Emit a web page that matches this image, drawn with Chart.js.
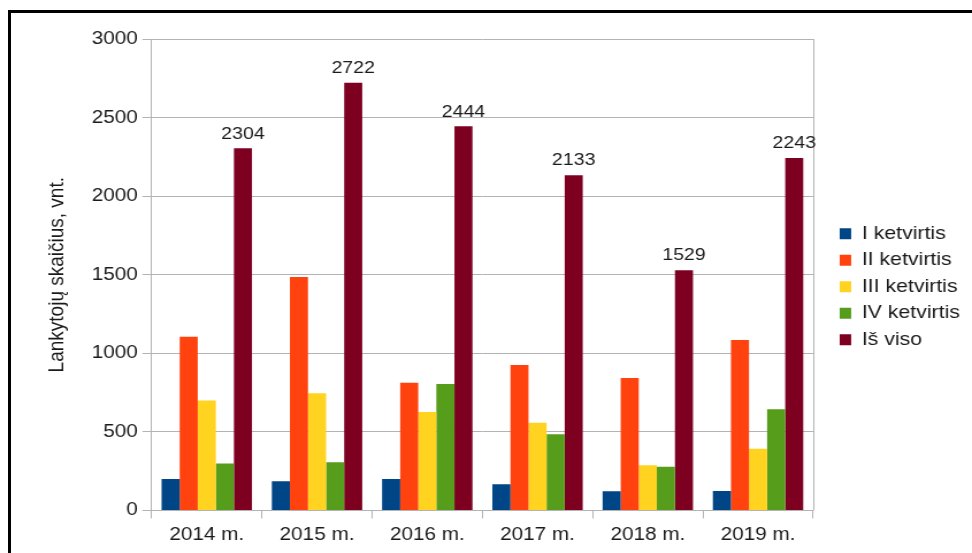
<!DOCTYPE html>
<html>
<head>
<meta charset="utf-8">
<script src="https://cdn.jsdelivr.net/npm/chart.js@4/dist/chart.umd.min.js"></script>
<style>
  html, body { margin: 0; padding: 0; background: #fff; overflow: hidden; }
  #frame { position: absolute; left: 8px; top: 10px; width: 2000px; height: 2000px;
           border-left: 3px solid #000; border-top: 3px solid #000; }
  #wrap { position: absolute; left: 0; top: 0; width: 850px; height: 553px;
          transform-origin: 0 0; transform: scaleX(1.1503); }
  canvas { display: block; }
</style>
</head>
<body>
<div id="frame"></div>
<div id="wrap"><canvas id="c" width="850" height="553"></canvas></div>
<script>
const categories = ['2014 m.', '2015 m.', '2016 m.', '2017 m.', '2018 m.', '2019 m.'];
const seriesNames = ['I ketvirtis', 'II ketvirtis', 'III ketvirtis', 'IV ketvirtis', 'Iš viso'];
const q1 = [200, 185, 200, 166, 122, 123];
const q2 = [1105, 1485, 812, 925, 843, 1085];
const q3 = [700, 745, 627, 558, 287, 392];
const q4 = [299, 307, 805, 484, 277, 643];
const total = [2304, 2722, 2444, 2133, 1529, 2243];
const yTicks = [0, 500, 1000, 1500, 2000, 2500, 3000];
const colors = ['#004586', '#ff420e', '#ffd320', '#579d1c', '#7e0021'];

const GRID = '#b3b3b3';
const TEXT = '#1a1a1a';
const FONT = '"Liberation Sans", Arial, sans-serif';

const labelPlugin = {
  id: 'totalLabels',
  afterDatasetsDraw(chart) {
    const ctx = chart.ctx;
    const meta = chart.getDatasetMeta(4);
    ctx.save();
    ctx.font = '17px ' + FONT;
    ctx.fillStyle = TEXT;
    ctx.textAlign = 'center';
    ctx.textBaseline = 'bottom';
    meta.data.forEach((bar, i) => {
      ctx.fillText(String(total[i]), bar.x, bar.y - 6);
    });
    ctx.restore();
  }
};

const edgePlugin = {
  id: 'rightEdge',
  beforeDatasetsDraw(chart) {
    const a = chart.chartArea, ctx = chart.ctx;
    ctx.save();
    ctx.strokeStyle = GRID;
    ctx.lineWidth = 1;
    ctx.beginPath();
    ctx.moveTo(Math.round(a.right) + 0.5, a.top);
    ctx.lineTo(Math.round(a.right) + 0.5, a.bottom);
    ctx.stroke();
    ctx.restore();
  }
};

const data = {
  labels: categories,
  datasets: [q1, q2, q3, q4, total].map((vals, i) => ({
    label: seriesNames[i],
    data: vals,
    backgroundColor: colors[i],
    borderWidth: 0,
    barPercentage: 1.0,
    categoryPercentage: 0.82
  }))
};

new Chart(document.getElementById('c'), {
  type: 'bar',
  data,
  plugins: [labelPlugin, edgePlugin],
  options: {
    responsive: false,
    animation: false,
    devicePixelRatio: 1,
    layout: { padding: { left: 28, top: 39, right: 5.5, bottom: 1 } },
    plugins: {
      tooltip: { enabled: false },
      legend: {
        position: 'right',
        align: 'center',
        fullSize: false,
        title: { display: true, text: ' ', font: { size: 10 }, padding: { top: 12, bottom: 0 } },
        labels: {
          boxWidth: 10,
          boxHeight: 11,
          padding: 8,
          color: TEXT,
          font: { family: FONT, size: 18.5 }
        }
      }
    },
    scales: {
      x: {
        grid: { display: true, offset: true, drawOnChartArea: false, tickLength: 8, color: GRID, tickColor: GRID },
        border: { color: GRID },
        ticks: { color: TEXT, font: { family: FONT, size: 18 }, padding: 6, maxRotation: 0 }
      },
      y: {
        min: 0,
        max: 3000,
        afterBuildTicks: (s) => { s.ticks = yTicks.map(v => ({ value: v })); },
        grid: { color: GRID, tickLength: 8, tickColor: GRID },
        border: { color: GRID },
        ticks: { color: TEXT, font: { family: FONT, size: 18 }, padding: 4, callback: (v) => String(v) },
        title: {
          display: true,
          text: 'Lankytojų skaičius, vnt.',
          color: TEXT,
          font: { family: FONT, size: 19 },
          padding: { top: 10, bottom: 15 }
        }
      },
      spacer: {
        type: 'linear',
        position: 'right',
        display: true,
        grid: { display: false },
        border: { display: false },
        ticks: { display: false },
        afterFit: (s) => { s.width = 15; }
      }
    }
  }
});
</script>
</body>
</html>
